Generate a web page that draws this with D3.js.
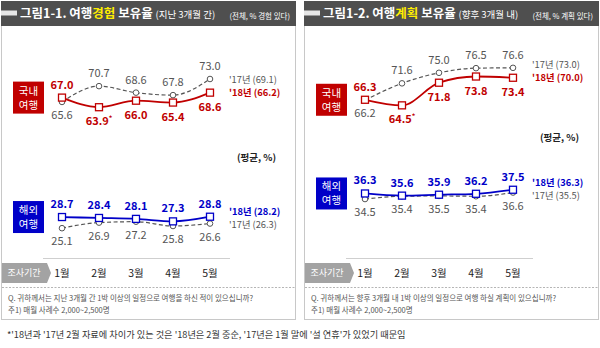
<!DOCTYPE html>
<html>
<head>
<meta charset="utf-8">
<script src="https://cdn.jsdelivr.net/npm/d3@7"></script>
<style>
  body { margin: 0; background: #fff; }
  svg { display: block; font-family: "Noto Sans CJK KR", "Noto Sans", sans-serif; }
</style>
</head>
<body>
<div id="chart"></div>
<script>
// months surveyed
const months = ['1월', '2월', '3월', '4월', '5월'];

// travel experience (last 3 months), %
const expDom18 = [67.0, 63.9, 66.0, 65.4, 68.6];
const expDom17 = [65.6, 70.7, 68.6, 67.8, 73.0];
const expAbr18 = [28.7, 28.4, 28.1, 27.3, 28.8];
const expAbr17 = [25.1, 26.9, 27.2, 25.8, 26.6];
const expAvg = { dom17: 69.1, dom18: 66.2, abr18: 28.2, abr17: 26.3 };

// travel plans (next 3 months), %
const planDom18 = [66.3, 64.5, 71.8, 73.8, 73.4];
const planDom17 = [66.2, 71.6, 75.0, 76.5, 76.6];
const planAbr18 = [36.3, 35.6, 35.9, 36.2, 37.5];
const planAbr17 = [34.5, 35.4, 35.5, 35.4, 36.6];
const planAvg = { dom17: 73.0, dom18: 70.0, abr18: 36.3, abr17: 35.5 };

// month flagged with the holiday footnote (domestic '18 only)
const starred = [1];

const W = 600, H = 348;
const RED = '#c00000', BLUE = '#0000c8', GREY = '#555555';

const svg = d3.select('#chart').append('svg')
  .attr('width', W)
  .attr('height', H);

// shared scales, both panels use the same ones
const x = d3.scalePoint().domain(months).range([62, 210]);
const yDom = d3.scaleLinear().domain([60, 80]).range([119.3, 57.3]);
const yAbr = d3.scaleLinear().domain([20, 40]).range([244, 182]);

const line = y => d3.line()
  .x((d, i) => x(months[i]))
  .y(d => y(d))
  .curve(d3.curveMonotoneX);

function drawPanel(ox, cfg) {
  const g = svg.append('g').attr('transform', `translate(${ox},0)`);

  // frame
  g.append('rect')
    .attr('x', 1.5).attr('y', 1.5)
    .attr('width', 294).attr('height', 318)
    .attr('fill', '#fff')
    .attr('stroke', '#c8c8c8');

  // header bar
  g.append('rect')
    .attr('x', 1).attr('y', 1)
    .attr('width', 295).attr('height', 25)
    .attr('fill', '#4f4f4f');
  g.append('rect')
    .attr('x', 1).attr('y', 10.5)
    .attr('width', 16).attr('height', 5)
    .attr('fill', '#e6e6e6');

  const title = g.append('text')
    .attr('x', 20).attr('y', 18)
    .attr('fill', '#fff')
    .attr('font-size', 12.5)
    .attr('font-weight', 'bold');
  title.append('tspan').text(cfg.title[0]);
  title.append('tspan').attr('fill', '#ffee00').text(cfg.title[1]);
  title.append('tspan').text(cfg.title[2]);
  title.append('tspan').attr('font-size', 9.5).attr('font-weight', 'normal').text(cfg.title[3]);

  g.append('text')
    .attr('x', 290).attr('y', 19)
    .attr('text-anchor', 'end')
    .attr('fill', '#fff')
    .attr('font-size', 7.5)
    .text(cfg.unit);

  // one group: domestic or abroad
  function drawGroup(y, s18, s17, avg18, avg17, color, label, star) {
    // category box, centred on the first month
    const cy = y(s18[0]);
    g.append('rect')
      .attr('x', 13).attr('y', cy - 16)
      .attr('width', 31).attr('height', 32)
      .attr('fill', color);
    g.append('text')
      .attr('x', 28.5).attr('y', cy - 3)
      .attr('text-anchor', 'middle').attr('fill', '#fff')
      .attr('font-size', 10.5)
      .text(label[0]);
    g.append('text')
      .attr('x', 28.5).attr('y', cy + 11)
      .attr('text-anchor', 'middle').attr('fill', '#fff')
      .attr('font-size', 10.5)
      .text(label[1]);

    // '17 dashed line with circles
    g.append('path')
      .datum(s17)
      .attr('d', line(y))
      .attr('fill', 'none')
      .attr('stroke', GREY)
      .attr('stroke-width', 1.2)
      .attr('stroke-dasharray', '4,2.5');

    // '18 solid line with squares
    g.append('path')
      .datum(s18)
      .attr('d', line(y))
      .attr('fill', 'none')
      .attr('stroke', color)
      .attr('stroke-width', 1.8);

    g.selectAll(null)
      .data(s17)
      .join('circle')
      .attr('cx', (d, i) => x(months[i]))
      .attr('cy', d => y(d))
      .attr('r', 2.8)
      .attr('fill', '#fff')
      .attr('stroke', GREY)
      .attr('stroke-width', 1);

    g.selectAll(null)
      .data(s18)
      .join('rect')
      .attr('x', (d, i) => x(months[i]) - 3.5)
      .attr('y', d => y(d) - 3.5)
      .attr('width', 7).attr('height', 7)
      .attr('fill', '#fff')
      .attr('stroke', color)
      .attr('stroke-width', 1.3);

    // value labels: the higher series goes above, the other below
    const lab18 = g.selectAll(null)
      .data(s18)
      .join('text')
      .attr('x', (d, i) => x(months[i]))
      .attr('y', (d, i) => d >= s17[i] ? y(d) - 9 : y(d) + 18)
      .attr('text-anchor', 'middle')
      .attr('fill', color)
      .attr('font-size', 11)
      .attr('font-weight', 'bold')
      .text(d => d.toFixed(1));
    if (star) {
      lab18.filter((d, i) => starred.includes(i))
        .append('tspan')
        .attr('font-size', 7)
        .attr('dy', -4)
        .text('*');
    }

    g.selectAll(null)
      .data(s17)
      .join('text')
      .attr('x', (d, i) => x(months[i]))
      .attr('y', (d, i) => d > s18[i] ? y(d) - 9 : y(d) + 17)
      .attr('text-anchor', 'middle')
      .attr('fill', GREY)
      .attr('font-size', 11)
      .text(d => d.toFixed(1));

    // series legend next to the last month, kept apart
    let l18 = y(s18[s18.length - 1]), l17 = y(s17[s17.length - 1]);
    const gap = 13.5;
    if (Math.abs(l18 - l17) < gap) {
      const mid = (l18 + l17) / 2 - 2;
      const sign = l18 < l17 ? -1 : 1;
      l18 = mid + sign * gap / 2;
      l17 = mid - sign * gap / 2;
    }
    g.append('text')
      .attr('x', 229).attr('y', l18 + 3.5)
      .attr('fill', color)
      .attr('font-size', 9.3)
      .attr('font-weight', 'bold')
      .text(`'18년 (${avg18.toFixed(1)})`);
    g.append('text')
      .attr('x', 229).attr('y', l17 + 3.5)
      .attr('fill', GREY)
      .attr('font-size', 9.3)
      .text(`'17년 (${avg17.toFixed(1)})`);
  }

  drawGroup(yDom, cfg.dom18, cfg.dom17, cfg.avg.dom18, cfg.avg.dom17, RED, ['국내', '여행'], true);
  drawGroup(yAbr, cfg.abr18, cfg.abr17, cfg.avg.abr18, cfg.avg.abr17, BLUE, ['해외', '여행'], false);

  g.append('text')
    .attr('x', 276).attr('y', cfg.avgLabelY)
    .attr('text-anchor', 'end')
    .attr('fill', '#222')
    .attr('font-size', 9.5)
    .attr('font-weight', 'bold')
    .text('(평균, %)');

  // month axis
  g.append('line')
    .attr('x1', 43).attr('x2', 230)
    .attr('y1', 258.5).attr('y2', 258.5)
    .attr('stroke', '#cfcfcf');

  g.append('path')
    .attr('d', 'M2,263 H47 L51,273 L47,283 H2 Z')
    .attr('fill', '#a3a3a3');
  g.append('text')
    .attr('x', 24).attr('y', 276)
    .attr('text-anchor', 'middle')
    .attr('fill', '#fff')
    .attr('font-size', 9)
    .text('조사기간');

  g.selectAll(null)
    .data(months)
    .join('text')
    .attr('x', d => x(d))
    .attr('y', 277)
    .attr('text-anchor', 'middle')
    .attr('fill', '#222')
    .attr('font-size', 10.5)
    .text(d => d);

  g.append('line')
    .attr('x1', 2).attr('x2', 295)
    .attr('y1', 287.5).attr('y2', 287.5)
    .attr('stroke', '#b5b5b5')
    .attr('stroke-dasharray', '2,1.5');

  g.append('text')
    .attr('x', 8).attr('y', 301)
    .attr('fill', '#555')
    .attr('font-size', 7.5)
    .text(cfg.question);
  g.append('text')
    .attr('x', 8).attr('y', 313)
    .attr('fill', '#555')
    .attr('font-size', 7.5)
    .text('주1) 매월 사례수 2,000~2,500명');
}

drawPanel(0, {
  title: ['그림1-1. 여행', '경험', ' 보유율 ', '(지난 3개월 간)'],
  unit: '(전체, % 경험 있다)',
  dom18: expDom18, dom17: expDom17, abr18: expAbr18, abr17: expAbr17,
  avg: expAvg,
  avgLabelY: 161,
  question: 'Q. 귀하께서는 지난 3개월 간 1박 이상의 일정으로 여행을 하신 적이 있으십니까?'
});

drawPanel(303, {
  title: ['그림1-2. 여행', '계획', ' 보유율 ', '(향후 3개월 내)'],
  unit: '(전체, % 계획 있다)',
  dom18: planDom18, dom17: planDom17, abr18: planAbr18, abr17: planAbr17,
  avg: planAvg,
  avgLabelY: 141,
  question: 'Q. 귀하께서는 향후 3개월 내 1박 이상의 일정으로 여행 하실 계획이 있으십니까?'
});

// footnote under both panels
svg.append('text')
  .attr('x', 7).attr('y', 338)
  .attr('fill', '#333')
  .attr('font-size', 9.2)
  .text("*'18년과 '17년 2월 자료에 차이가 있는 것은 '18년은 2월 중순, '17년은 1월 말에 '설 연휴'가 있었기 때문임");
</script>
</body>
</html>
